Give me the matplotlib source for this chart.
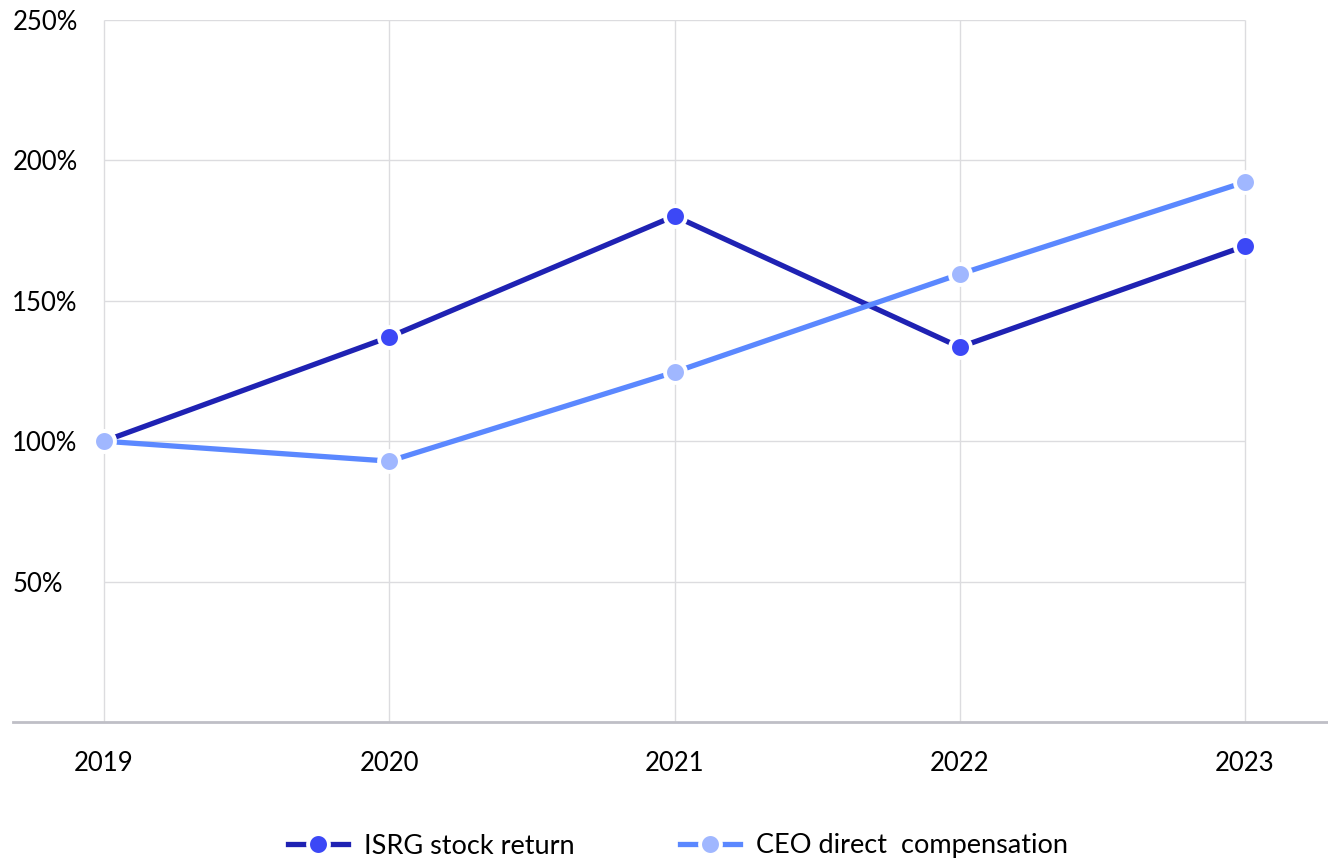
import matplotlib
matplotlib.use("Agg")
import matplotlib.pyplot as plt
from matplotlib.lines import Line2D

years = [2019, 2020, 2021, 2022, 2023]
isrg_return = [100, 137.1, 180.2, 133.5, 169.5]
ceo_comp = [100, 92.9, 124.6, 159.5, 192.3]
y_ticks = [50, 100, 150, 200, 250]
y_labels = ["50%", "100%", "150%", "200%", "250%"]
series_names = ["ISRG stock return", "CEO direct  compensation"]

plt.rcParams['font.family'] = ['Lato', 'DejaVu Sans']

W, H = 1328, 859
fig = plt.figure(figsize=(W / 100, H / 100), dpi=100)
ax = fig.add_axes([13 / W, 1 - 722 / H, (1328 - 13) / W, (722 - 20) / H])

px_per_year = (1245 - 104) / 4
ax.set_xlim(2019 - (104 - 13) / px_per_year, 2023 + (1328 - 1245) / px_per_year)
ax.set_ylim(0, 250)

grid_c = "#dcdcdf"
ax.hlines(y_ticks, years[0], years[-1], color=grid_c, lw=1.0, zorder=1)
ax.vlines(years, 0, 250, color=grid_c, lw=1.0, zorder=1)

for s in ["top", "right", "left"]:
    ax.spines[s].set_visible(False)
ax.spines["bottom"].set_color("#bfbfc6")
ax.spines["bottom"].set_linewidth(2.0)

c1_line, c1_mark = "#1f22b3", "#3c48f6"
c2_line, c2_mark = "#5b88ff", "#a0b7ff"
ms, mew, lw = 15, 2.8, 3.8
fs = 18.5

ax.plot(years, isrg_return, color=c1_line, lw=lw, marker="o", ms=ms,
        mfc=c1_mark, mec="white", mew=mew, zorder=3, clip_on=False)
ax.plot(years, ceo_comp, color=c2_line, lw=lw, marker="o", ms=ms,
        mfc=c2_mark, mec="white", mew=mew, zorder=4, clip_on=False)

ax.set_xticks(years)
ax.set_xticklabels([str(y) for y in years], fontsize=fs)
ax.tick_params(axis="x", length=0, pad=21)
ax.set_yticks(y_ticks)
ax.set_yticklabels(y_labels, fontsize=fs, ha="left")
ax.tick_params(axis="y", length=0, pad=0.5)

handles = [
    Line2D([0], [0], color=c1_line, lw=lw, marker="o", ms=ms, mfc=c1_mark, mec="white", mew=mew),
    Line2D([0], [0], color=c2_line, lw=lw, marker="o", ms=ms, mfc=c2_mark, mec="white", mew=mew),
]
fig.legend(handles, series_names, loc="center", bbox_to_anchor=(678 / W, 1 - 846 / H),
           ncol=2, frameon=False, fontsize=19.5, handlelength=2.2, handletextpad=0.6,
           columnspacing=3.9, borderpad=0, borderaxespad=0)

fig.savefig("out.png", dpi=100)
